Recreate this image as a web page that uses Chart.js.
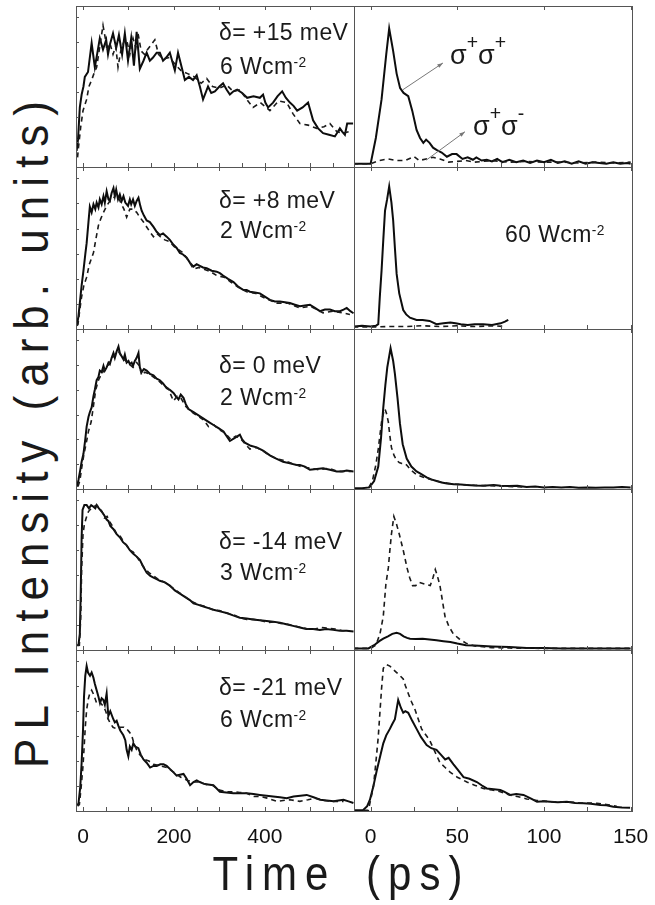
<!DOCTYPE html>
<html><head><meta charset="utf-8">
<script src="https://cdn.jsdelivr.net/npm/chart.js@4.4.1/dist/chart.umd.min.js"></script>
<style>
body{margin:0;background:#fff;}
#fig{position:relative;width:655px;height:905px;overflow:hidden;background:#fff;font-family:"Liberation Sans",Arial,sans-serif;color:#1a1a1a;}
.pane{position:absolute;}
.lbl{position:absolute;font-size:23px;line-height:23px;letter-spacing:0.4px;white-space:nowrap;}
.lbl sup{font-size:0.6em;position:relative;top:-0.5em;vertical-align:baseline;line-height:0;}
.sig{position:absolute;font-size:27px;line-height:27px;white-space:nowrap;}
.sig sup{font-size:0.72em;position:relative;top:-0.75em;vertical-align:baseline;line-height:0;}
#xt{position:absolute;left:0;width:683px;text-align:center;top:855px;font-size:42px;line-height:42px;letter-spacing:8px;word-spacing:10px;white-space:nowrap;transform:scaleY(1.15);transform-origin:50% 80%;}
#yt{position:absolute;width:800px;left:-369px;top:408px;text-align:center;font-size:44px;line-height:44px;letter-spacing:9px;white-space:nowrap;transform:rotate(-90deg) scaleY(1.1);transform-origin:50% 50%;}
</style></head>
<body><div id="fig">
<div id="yt">PL Intensity (arb. units)</div>
<div id="xt">Time (ps)</div>
<div class="lbl" style="left:219px;top:21px">δ= +15 meV</div>
<div class="lbl" style="left:220px;top:55px">6 Wcm<sup>-2</sup></div>
<div class="lbl" style="left:219px;top:189px">δ= +8 meV</div>
<div class="lbl" style="left:220px;top:219px">2 Wcm<sup>-2</sup></div>
<div class="lbl" style="left:219px;top:354px">δ= 0 meV</div>
<div class="lbl" style="left:220px;top:386px">2 Wcm<sup>-2</sup></div>
<div class="lbl" style="left:219px;top:530px">δ= -14 meV</div>
<div class="lbl" style="left:220px;top:561px">3 Wcm<sup>-2</sup></div>
<div class="lbl" style="left:219px;top:676px">δ= -21 meV</div>
<div class="lbl" style="left:220px;top:708px">6 Wcm<sup>-2</sup></div>
<div class="lbl" style="left:505px;top:223px">60 Wcm<sup>-2</sup></div>
<div class="sig" style="left:450px;top:42px">σ<sup>+</sup>σ<sup>+</sup></div>
<div class="sig" style="left:473px;top:113px">σ<sup>+</sup>σ<sup>-</sup></div>
</div>
<script>
// ---------- data (time in ps, intensity normalised per panel) ----------
const leftTicks = [0, 200, 400];
const rightTicks = [0, 50, 100, 150];

const r1L_solid = [[-14,0.10],[-11,0.17],[-7,0.37],[-3,0.45],[1,0.50],[4,0.56],[11,0.59],[19,0.77],[26,0.62],[31,0.70],[37,0.80],[44,0.73],[51,0.79],[55,0.70],[59,0.76],[66,0.83],[73,0.74],[79,0.82],[86,0.70],[92,0.83],[99,0.66],[106,0.80],[112,0.63],[118,0.84],[125,0.61],[133,0.66],[140,0.71],[147,0.66],[154,0.68],[162,0.71],[169,0.71],[176,0.66],[183,0.68],[191,0.71],[202,0.60],[209,0.71],[217,0.62],[224,0.54],[233,0.56],[242,0.54],[250,0.57],[257,0.50],[264,0.42],[275,0.50],[282,0.46],[290,0.47],[300,0.50],[308,0.52],[316,0.48],[323,0.45],[331,0.47],[339,0.48],[350,0.46],[361,0.43],[375,0.44],[389,0.43],[396,0.45],[401,0.40],[407,0.37],[418,0.40],[428,0.44],[438,0.47],[446,0.43],[455,0.40],[463,0.38],[471,0.35],[483,0.37],[495,0.40],[506,0.29],[517,0.24],[528,0.21],[541,0.20],[554,0.19],[565,0.24],[570,0.22],[576,0.20],[581,0.27],[594,0.27]];
const r1L_dash = [[-12,0.06],[-10,0.12],[-5,0.25],[0,0.35],[8,0.42],[13,0.50],[19,0.54],[24,0.58],[30,0.62],[37,0.75],[44,0.88],[49,0.80],[53,0.72],[59,0.77],[66,0.70],[72,0.75],[77,0.62],[83,0.72],[90,0.78],[96,0.79],[103,0.70],[110,0.80],[116,0.74],[121,0.83],[128,0.72],[135,0.70],[142,0.73],[150,0.76],[158,0.79],[166,0.70],[176,0.67],[190,0.68],[205,0.63],[215,0.60],[230,0.58],[245,0.56],[260,0.52],[272,0.55],[285,0.50],[300,0.49],[316,0.51],[330,0.47],[345,0.48],[360,0.42],[374,0.37],[390,0.40],[411,0.35],[430,0.41],[448,0.40],[462,0.33],[477,0.27],[495,0.26],[514,0.24],[530,0.25],[543,0.27],[558,0.22],[572,0.21],[585,0.22]];
const r1R_solid = [[-10,0.02],[-5,0.02],[0,0.02],[3,0.18],[6.3,0.42],[9,0.70],[10.7,0.86],[13,0.72],[15,0.58],[17,0.49],[19,0.46],[21.7,0.44],[24,0.35],[26.5,0.23],[28.5,0.18],[30.4,0.15],[32,0.17],[34,0.15],[36,0.12],[38,0.106],[41,0.09],[44,0.064],[47,0.08],[49.6,0.08],[53,0.05],[56,0.06],[59,0.045],[61,0.06],[64,0.04],[67,0.045],[70,0.035],[73,0.05],[76,0.03],[80,0.045],[84,0.03],[88,0.04],[92,0.025],[96,0.04],[100,0.03],[104,0.045],[108,0.025],[112,0.035],[116,0.02],[120,0.035],[124,0.02],[128,0.03],[132,0.025],[136,0.02],[140,0.03],[144,0.02],[148,0.025],[150,0.02]];
const r1R_dash = [[-10,0.02],[0,0.02],[5,0.04],[10,0.05],[15,0.04],[20,0.04],[25,0.065],[28,0.04],[32,0.05],[36,0.06],[40,0.05],[45,0.03],[50,0.035],[55,0.04],[60,0.03],[70,0.04],[80,0.03],[90,0.035],[100,0.03],[110,0.03],[120,0.025],[130,0.03],[140,0.025],[150,0.03]];

const r2L_solid = [[-13,0.025],[-10,0.08],[-7,0.16],[-3,0.27],[1,0.36],[5,0.46],[8,0.53],[12,0.66],[15,0.755],[19,0.72],[23,0.77],[27,0.74],[30,0.78],[34,0.75],[37,0.80],[41,0.77],[45,0.82],[48,0.78],[52,0.85],[56,0.80],[59,0.79],[63,0.84],[67,0.87],[70,0.82],[73,0.86],[77,0.80],[81,0.83],[85,0.79],[89,0.82],[93,0.78],[99,0.76],[103,0.80],[106,0.77],[110,0.80],[114,0.76],[118,0.79],[122,0.81],[126,0.76],[129,0.73],[134,0.70],[140,0.67],[147,0.66],[155,0.63],[162,0.60],[169,0.58],[176,0.59],[184,0.57],[191,0.55],[199,0.52],[206,0.50],[213,0.47],[220,0.46],[228,0.44],[235,0.41],[243,0.385],[250,0.40],[257,0.39],[264,0.38],[272,0.375],[283,0.36],[294,0.354],[301,0.345],[308,0.33],[319,0.31],[331,0.29],[342,0.26],[353,0.24],[360,0.24],[367,0.23],[378,0.225],[389,0.22],[400,0.20],[411,0.18],[422,0.17],[433,0.17],[444,0.165],[455,0.16],[466,0.15],[477,0.14],[488,0.145],[499,0.15],[510,0.13],[521,0.11],[532,0.12],[543,0.12],[554,0.11],[565,0.11],[573,0.12],[580,0.13],[588,0.11],[595,0.097]];
const r2L_dash = [[-13,0.02],[-11,0.03],[-7,0.12],[-3,0.2],[2,0.27],[8,0.32],[14,0.40],[23,0.47],[28,0.55],[34,0.64],[39,0.68],[45,0.72],[52,0.76],[59,0.79],[66,0.80],[72,0.83],[77,0.82],[83,0.78],[90,0.74],[96,0.69],[103,0.74],[110,0.74],[118,0.72],[125,0.69],[133,0.66],[140,0.63],[147,0.60],[155,0.57],[162,0.59],[170,0.57],[180,0.55],[190,0.54],[200,0.51],[210,0.49],[220,0.47],[230,0.43],[243,0.37],[255,0.38],[265,0.37],[280,0.355],[294,0.33],[310,0.32],[325,0.29],[340,0.26],[360,0.23],[380,0.22],[400,0.19],[426,0.16],[450,0.16],[477,0.13],[500,0.14],[528,0.10],[550,0.11],[570,0.10],[587,0.09]];
const r2R_solid = [[-10,0.015],[-5,0.02],[0,0.015],[3,0.02],[4.4,0.03],[5.3,0.2],[6.3,0.36],[7.3,0.55],[8.3,0.73],[9.5,0.80],[10.7,0.88],[12,0.78],[13,0.67],[14,0.50],[15,0.34],[16.5,0.22],[18.8,0.117],[20.5,0.09],[22.7,0.07],[26.5,0.056],[30,0.055],[34,0.05],[38,0.03],[42,0.035],[46,0.04],[49,0.035],[52,0.03],[56,0.025],[60,0.03],[65,0.03],[70,0.025],[75,0.035],[77.5,0.045],[79.4,0.056]];
const r2R_dash = [[-10,0.012],[0,0.012],[10,0.015],[20,0.015],[30,0.02],[40,0.015],[50,0.02],[60,0.015],[70,0.02],[78,0.015]];

const r3L_solid = [[-13,0.015],[-10,0.056],[-6,0.12],[-3,0.17],[1,0.22],[5,0.31],[8,0.39],[12,0.45],[15,0.48],[19,0.51],[23,0.58],[26,0.62],[30,0.68],[34,0.70],[37,0.74],[41,0.73],[45,0.77],[48,0.74],[52,0.76],[56,0.79],[59,0.78],[63,0.82],[67,0.85],[70,0.82],[74,0.86],[78,0.89],[81,0.85],[85,0.83],[89,0.81],[92,0.84],[96,0.79],[100,0.80],[103,0.78],[107,0.79],[110,0.77],[114,0.80],[118,0.82],[122,0.85],[125,0.76],[129,0.73],[134,0.75],[140,0.74],[147,0.72],[155,0.71],[162,0.69],[169,0.68],[176,0.66],[184,0.63],[191,0.62],[199,0.60],[204,0.58],[210,0.56],[215,0.59],[221,0.57],[226,0.53],[232,0.50],[243,0.48],[254,0.46],[265,0.44],[276,0.42],[287,0.40],[298,0.38],[309,0.36],[316,0.33],[323,0.30],[334,0.32],[345,0.34],[350,0.31],[356,0.29],[369,0.27],[382,0.26],[396,0.24],[411,0.21],[425,0.19],[440,0.17],[455,0.16],[470,0.15],[477,0.15],[488,0.14],[499,0.12],[514,0.125],[528,0.13],[543,0.12],[558,0.11],[570,0.11],[580,0.115],[595,0.11]];
const r3L_dash = [[-11,0.015],[-7,0.05],[-3,0.13],[1,0.20],[3,0.23],[8,0.30],[12,0.36],[18,0.42],[23,0.52],[28,0.62],[34,0.68],[41,0.72],[48,0.75],[55,0.77],[62,0.81],[70,0.84],[78,0.86],[86,0.82],[94,0.80],[102,0.78],[110,0.76],[118,0.79],[124,0.77],[129,0.71],[136,0.73],[145,0.72],[155,0.70],[165,0.68],[176,0.65],[187,0.63],[199,0.55],[207,0.58],[215,0.57],[225,0.52],[235,0.49],[245,0.47],[256,0.45],[266,0.43],[276,0.39],[288,0.40],[300,0.37],[312,0.35],[325,0.31],[336,0.33],[345,0.32],[357,0.28],[367,0.25],[380,0.26],[395,0.24],[410,0.21],[425,0.19],[440,0.18],[460,0.16],[480,0.14],[500,0.13],[520,0.12],[540,0.13],[560,0.11],[580,0.11],[590,0.11]];
const r3R_solid = [[-10,0.005],[-5,0.005],[-0.7,0.01],[2,0.05],[4.4,0.14],[6,0.32],[7.3,0.51],[8.5,0.65],[9.6,0.76],[11.5,0.88],[13,0.80],[14,0.72],[15.5,0.57],[16.9,0.41],[18.5,0.28],[20.8,0.19],[23.5,0.14],[26.5,0.11],[29,0.095],[32.3,0.073],[35,0.06],[38,0.05],[41,0.04],[44,0.035],[48,0.03],[52,0.028],[55.5,0.025],[60,0.022],[65,0.02],[71,0.025],[75,0.02],[80,0.018],[84.6,0.02],[90,0.012],[95,0.015],[100,0.01],[105,0.012],[110,0.01],[115,0.012],[120,0.008],[125,0.01],[130,0.008],[135,0.01],[140,0.01],[145,0.012],[150,0.01]];
const r3R_dash = [[-1,0.01],[1,0.05],[3,0.15],[4.4,0.25],[6.3,0.42],[7.3,0.47],[8.3,0.50],[9.2,0.47],[10.2,0.42],[11,0.34],[12,0.26],[13.5,0.21],[15,0.18],[16.5,0.165],[17.9,0.16],[19.5,0.16],[20.8,0.15],[23,0.12],[26.5,0.09],[30,0.075],[33,0.065],[38,0.05],[45,0.035],[55,0.025],[70,0.02],[90,0.012]];

const r4L_solid = [[-13,0.03],[-10,0.03],[-7,0.1],[-5,0.35],[-3,0.7],[-1,0.87],[3,0.90],[8,0.90],[13,0.88],[18,0.90],[23,0.89],[27,0.88],[30,0.90],[35,0.88],[41,0.86],[46,0.84],[52,0.81],[56,0.80],[60,0.77],[67,0.75],[74,0.72],[81,0.70],[88,0.67],[96,0.65],[103,0.62],[110,0.60],[118,0.58],[125,0.56],[132,0.52],[140,0.48],[148,0.46],[155,0.45],[162,0.44],[169,0.43],[180,0.42],[191,0.40],[202,0.37],[213,0.35],[224,0.33],[235,0.31],[243,0.29],[254,0.28],[265,0.27],[276,0.26],[287,0.25],[301,0.24],[316,0.23],[330,0.215],[345,0.20],[360,0.195],[374,0.19],[389,0.185],[404,0.18],[418,0.175],[433,0.17],[447,0.16],[462,0.15],[477,0.14],[491,0.13],[506,0.13],[521,0.125],[535,0.13],[550,0.125],[565,0.12],[580,0.12],[595,0.115]];
const r4L_dash = [[-12,0.03],[-8,0.03],[-5,0.2],[-3,0.5],[0,0.72],[3,0.78],[7,0.82],[12,0.86],[18,0.88],[24,0.89],[30,0.90],[36,0.88],[42,0.86],[47,0.82],[53,0.83],[60,0.79],[67,0.76],[74,0.72],[81,0.71],[88,0.68],[96,0.65],[103,0.62],[110,0.61],[118,0.58],[125,0.55],[135,0.51],[145,0.48],[155,0.46],[165,0.44],[180,0.42],[195,0.39],[210,0.36],[225,0.33],[240,0.30],[255,0.28],[270,0.27],[285,0.25],[300,0.245],[315,0.23],[330,0.22],[345,0.20],[360,0.19],[375,0.19],[390,0.185],[405,0.17],[420,0.175],[435,0.165],[450,0.16],[465,0.15],[480,0.14],[495,0.13],[510,0.13],[525,0.14],[540,0.135],[555,0.13],[570,0.12],[585,0.12]];
const r4R_solid = [[-10,0.01],[-5,0.01],[-1.3,0.01],[2,0.03],[5,0.055],[7.3,0.07],[10,0.085],[12.5,0.10],[15,0.107],[17,0.10],[19,0.085],[21,0.075],[22.7,0.07],[26,0.068],[30,0.07],[34,0.065],[38,0.06],[42,0.055],[46,0.05],[50,0.04],[55,0.03],[60,0.028],[65,0.025],[70,0.022],[75,0.02],[80,0.018],[85,0.015],[90,0.012],[100,0.012],[110,0.01],[120,0.01],[130,0.01],[140,0.01],[150,0.01]];
const r4R_dash = [[-10,0.01],[0,0.01],[3,0.03],[5.4,0.10],[7.3,0.21],[8.8,0.41],[10.2,0.51],[11.1,0.62],[12,0.72],[13.4,0.83],[15,0.78],[16.5,0.72],[18.8,0.62],[21,0.51],[22.5,0.45],[24.2,0.40],[26,0.40],[28,0.42],[31,0.41],[34.4,0.40],[36,0.45],[37.3,0.50],[38.5,0.46],[40,0.40],[41.5,0.30],[42.9,0.21],[45,0.15],[47.7,0.10],[51,0.07],[55.4,0.04],[60,0.025],[70,0.015],[80,0.012],[100,0.01],[150,0.01]];

const r5L_solid = [[-13,0.037],[-10,0.045],[-6,0.15],[-3,0.30],[0,0.50],[2.2,0.71],[5,0.84],[8,0.90],[11,0.86],[15.4,0.84],[19,0.86],[22.7,0.83],[26,0.79],[30,0.75],[34,0.71],[37.4,0.67],[41,0.70],[44.7,0.69],[48,0.66],[52,0.73],[55.7,0.59],[60,0.62],[66.7,0.57],[70,0.55],[74,0.56],[77.7,0.53],[82,0.50],[88.7,0.47],[93,0.44],[96,0.38],[99.7,0.34],[103,0.40],[107,0.38],[110.7,0.42],[115,0.40],[121.7,0.39],[127,0.35],[133,0.32],[140,0.30],[147.6,0.27],[155,0.28],[162,0.28],[170,0.29],[177,0.29],[184,0.28],[191.6,0.26],[199,0.24],[206,0.22],[213,0.225],[221,0.23],[228,0.20],[235.5,0.16],[243,0.18],[250,0.19],[257,0.18],[264.7,0.17],[275,0.165],[286.7,0.16],[294,0.14],[301,0.12],[315,0.115],[330.7,0.11],[345,0.11],[360,0.11],[375,0.105],[389,0.10],[404,0.095],[418,0.09],[433,0.085],[448,0.08],[463,0.09],[478,0.095],[492,0.10],[507,0.085],[521.7,0.07],[536,0.065],[551,0.06],[562,0.065],[573,0.07],[584,0.06],[594.7,0.05]];
const r5L_dash = [[-12,0.03],[-8,0.04],[-4,0.15],[0,0.28],[1.7,0.36],[5,0.52],[8,0.63],[12,0.70],[15,0.73],[19,0.75],[24,0.72],[30,0.67],[36,0.68],[44.7,0.65],[50,0.62],[54,0.58],[59,0.55],[66,0.52],[74,0.51],[82,0.52],[90,0.52],[96,0.51],[102,0.49],[107,0.47],[112,0.42],[118,0.38],[125,0.35],[135,0.32],[145,0.31],[155,0.29],[170,0.28],[185,0.27],[200,0.24],[215,0.21],[230,0.19],[243,0.18],[257,0.18],[270,0.165],[285,0.16],[300,0.13],[315,0.12],[330,0.12],[345,0.115],[360,0.11],[374.6,0.09],[390,0.09],[405,0.08],[425.8,0.06],[440,0.065],[455,0.07],[477,0.06],[495,0.07],[510,0.08],[530,0.065],[550,0.06],[573,0.06]];
const r5R_solid = [[-10,0.005],[-4.3,0.006],[-2,0.03],[-0.4,0.07],[1.5,0.15],[3.5,0.25],[5.5,0.34],[7.3,0.42],[9,0.47],[11.1,0.51],[12.5,0.54],[14,0.57],[15.9,0.69],[17.5,0.64],[18.8,0.61],[20,0.62],[21.7,0.61],[24,0.56],[26.5,0.51],[29,0.46],[32.3,0.41],[35,0.39],[38,0.38],[40.5,0.35],[43,0.32],[45,0.33],[47.8,0.29],[50,0.26],[53.6,0.21],[57,0.20],[61.3,0.18],[64,0.16],[67,0.14],[71,0.135],[74.8,0.13],[77,0.12],[80.5,0.10],[84,0.105],[88.2,0.10],[92,0.08],[96,0.058],[100,0.06],[103.6,0.058],[108,0.055],[113.2,0.058],[118,0.05],[122.9,0.048],[127,0.045],[132.5,0.038],[136,0.035],[140,0.027],[145,0.022],[149.7,0.02]];
const r5R_dash = [[-4,0.005],[-1.3,0.005],[1.6,0.15],[3,0.30],[4.4,0.46],[5.4,0.62],[6.3,0.76],[7.3,0.886],[9,0.91],[11.1,0.90],[13,0.88],[15,0.86],[17,0.84],[18.8,0.82],[20,0.78],[21.7,0.73],[23.5,0.68],[25.6,0.63],[27.5,0.57],[29.4,0.51],[32,0.47],[34,0.44],[37,0.37],[40,0.30],[43,0.27],[46,0.24],[50,0.21],[55.5,0.18],[60,0.16],[65,0.14],[70,0.13],[74.8,0.12],[80,0.10],[84.6,0.09],[90,0.075],[96,0.065],[103.6,0.058],[115,0.055],[122,0.05],[130.6,0.048],[136,0.04],[142,0.03]];

// ---------- layout ----------
const rowEdges = [6, 167, 329, 489, 650, 811];
const colEdges = [76, 354, 632];
const colRange = [[-15.4, 596], [-9.6, 150.8]];
const colMinor = [50, 25];
const colTicks = [leftTicks, rightTicks];
const PAD = 4;

// annotation pointer lines (data coords of row 1, right panel)
const pointers = [[[18.6, 0.48], [41.7, 0.646]], [[32.1, 0.043], [54.4, 0.219]]];

const panels = [
  [r1L_solid, r1L_dash, r1R_solid, r1R_dash],
  [r2L_solid, r2L_dash, r2R_solid, r2R_dash],
  [r3L_solid, r3L_dash, r3R_solid, r3R_dash],
  [r4L_solid, r4L_dash, r4R_solid, r4R_dash],
  [r5L_solid, r5L_dash, r5R_solid, r5R_dash]
];

Chart.defaults.font.family = "'Liberation Sans', Arial, sans-serif";
Chart.defaults.color = '#111';

const frameTicks = {
  id: 'frameTicks',
  afterDatasetsDraw(chart, args, o) {
    const {ctx, chartArea: a, scales: {x, y}} = chart;
    ctx.save();
    ctx.strokeStyle = '#555';
    ctx.lineWidth = 1;
    ctx.strokeRect(Math.round(a.left) + 0.5, Math.round(a.top) + 0.5,
                   Math.round(a.right - a.left), Math.round(a.bottom - a.top));
    ctx.beginPath();
    const step = o.minor;
    for (let v = Math.ceil(x.min / step) * step; v <= x.max; v += step) {
      const px = Math.round(x.getPixelForValue(v)) + 0.5;
      ctx.moveTo(px, a.bottom); ctx.lineTo(px, a.bottom - 4);
      if (Math.round(v / step) % 2 === 0) { ctx.moveTo(px, a.top); ctx.lineTo(px, a.top + 4); }
    }
    if (o.yStep) {
      for (let v = o.yStep; v < 0.98; v += o.yStep) {
        const py = Math.round(y.getPixelForValue(v)) + 0.5;
        ctx.moveTo(a.left, py); ctx.lineTo(a.left + 3, py);
      }
    }
    ctx.stroke();
    if (o.pointers) {
      ctx.strokeStyle = '#777';
      ctx.lineWidth = 1;
      o.pointers.forEach(([p, q]) => {
        const x1 = x.getPixelForValue(p[0]), y1 = y.getPixelForValue(p[1]);
        const x2 = x.getPixelForValue(q[0]), y2 = y.getPixelForValue(q[1]);
        ctx.beginPath(); ctx.moveTo(x1, y1); ctx.lineTo(x2, y2); ctx.stroke();
        const ang = Math.atan2(y2 - y1, x2 - x1);
        ctx.beginPath();
        ctx.moveTo(x2, y2);
        ctx.lineTo(x2 - 6 * Math.cos(ang - 0.35), y2 - 6 * Math.sin(ang - 0.35));
        ctx.lineTo(x2 - 6 * Math.cos(ang + 0.35), y2 - 6 * Math.sin(ang + 0.35));
        ctx.closePath(); ctx.fillStyle = '#777'; ctx.fill();
      });
    }
    ctx.restore();
  }
};

const fig = document.getElementById('fig');
const toXY = arr => arr.map(([t, v]) => ({x: t, y: v}));

panels.forEach((row, r) => {
  [0, 1].forEach(c => {
    const bottom = r === 4;
    const padR = bottom && c === 1 ? 22 : PAD;
    const padB = bottom ? 0 : PAD;
    const axisH = bottom ? 44 : 0;
    const w = colEdges[c + 1] - colEdges[c];
    const h = rowEdges[r + 1] - rowEdges[r];
    const div = document.createElement('div');
    div.className = 'pane';
    const cw = w + PAD + padR, ch = h + PAD + padB + axisH;
    div.style.left = (colEdges[c] - PAD) + 'px';
    div.style.top = (rowEdges[r] - PAD) + 'px';
    div.style.width = cw + 'px';
    div.style.height = ch + 'px';
    const cv = document.createElement('canvas');
    cv.width = cw; cv.height = ch;
    cv.style.width = cw + 'px'; cv.style.height = ch + 'px';
    div.appendChild(cv);
    fig.insertBefore(div, fig.firstChild);
    const solid = row[c * 2], dash = row[c * 2 + 1];
    new Chart(cv, {
      type: 'line',
      data: {
        datasets: [
          {data: toXY(dash), borderColor: '#1a1a1a', borderWidth: 1.6, borderDash: [5, 4], pointRadius: 0, tension: 0, fill: false},
          {data: toXY(solid), borderColor: '#0d0d0d', borderWidth: 2, pointRadius: 0, tension: 0, fill: false}
        ]
      },
      options: {
        responsive: false,
        animation: false,
        devicePixelRatio: 1,
        events: [],
        parsing: false,
        layout: {padding: {left: PAD, right: padR, top: PAD, bottom: padB}},
        plugins: {
          legend: {display: false},
          tooltip: {enabled: false},
          frameTicks: {minor: colMinor[c], yStep: c === 0 ? 0.155 : 0, pointers: (r === 0 && c === 1) ? pointers : null}
        },
        scales: {
          x: {
            type: 'linear', min: colRange[c][0], max: colRange[c][1],
            display: bottom,
            grid: {display: false, drawTicks: false},
            border: {display: false},
            ticks: {font: {size: 21}, color: '#111', padding: 14, maxRotation: 0, autoSkip: false},
            afterBuildTicks: s => { s.ticks = colTicks[c].map(v => ({value: v})); },
            afterFit: s => { s.height = axisH; s.paddingLeft = 0; s.paddingRight = 0; }
          },
          y: {type: 'linear', min: 0, max: 1, display: false}
        }
      },
      plugins: [frameTicks]
    });
  });
});
</script>
</body></html>
